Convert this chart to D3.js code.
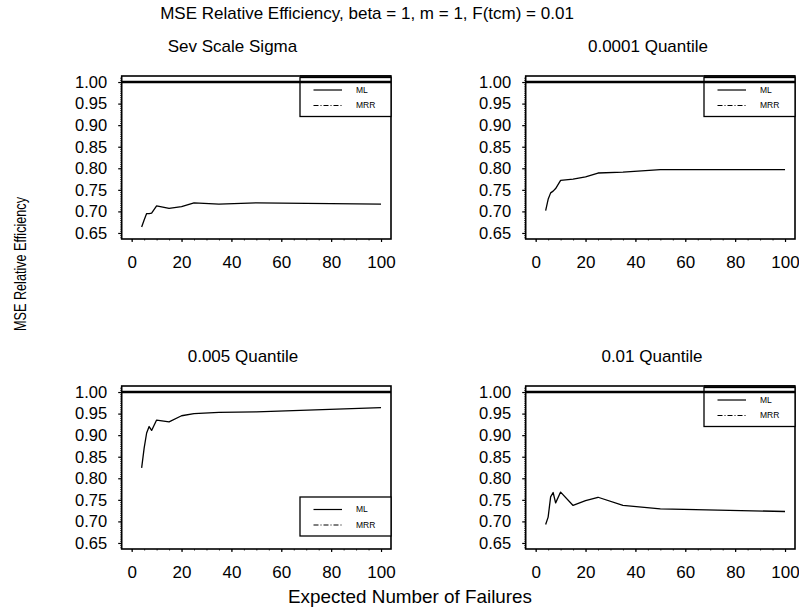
<!DOCTYPE html>
<html><head><meta charset="utf-8">
<script src="https://cdn.jsdelivr.net/npm/d3@7"></script>
<style>
body{margin:0;background:#fff;}
text{font-family:"Liberation Sans",Arial,Helvetica,sans-serif;fill:#000;}
</style></head>
<body><svg id="c" width="799" height="613"></svg>
<script>
const xValues = [4, 5, 6, 7, 8, 10, 15, 20, 25, 35, 50, 100];
const sevScaleSigma = [0.664, 0.680, 0.695, 0.695, 0.696, 0.713, 0.707, 0.711, 0.720, 0.717, 0.720, 0.717];
const q0001 = [0.702, 0.728, 0.743, 0.747, 0.753, 0.772, 0.775, 0.780, 0.789, 0.791, 0.797, 0.797];
const q005 = [0.824, 0.870, 0.905, 0.920, 0.911, 0.935, 0.931, 0.945, 0.950, 0.953, 0.954, 0.964];
const q01 = [0.693, 0.710, 0.757, 0.767, 0.743, 0.768, 0.737, 0.748, 0.756, 0.737, 0.729, 0.723];
const mrrValue = 1.0;
const panelTitles = ["Sev Scale Sigma", "0.0001 Quantile", "0.005 Quantile", "0.01 Quantile"];
const legendLabels = ["ML", "MRR"];
const xTicks = [0, 20, 40, 60, 80, 100];
const yTicks = [0.65, 0.70, 0.75, 0.80, 0.85, 0.90, 0.95, 1.00];
const mainTitle = "MSE Relative Efficiency, beta = 1, m = 1, F(tcm) = 0.01";
const xTitle = "Expected Number of Failures";
const yTitle = "MSE Relative Efficiency";

const svg = d3.select("#c");
const panels = [
  {vals: sevScaleSigma, x0: 121.7, x1: 391, y0: 76, y1: 239, tx: 232.5, ty: 51.5, leg: "top"},
  {vals: q0001, x0: 525.7, x1: 795, y0: 76, y1: 239, tx: 648, ty: 51.5, leg: "top"},
  {vals: q005, x0: 121.7, x1: 391, y0: 386, y1: 549, tx: 243, ty: 361.5, leg: "bottom"},
  {vals: q01, x0: 525.7, x1: 795, y0: 386, y1: 549, tx: 652, ty: 361.5, leg: "top"}
];

panels.forEach((p, i) => {
  const g = svg.append("g");
  const x = d3.scaleLinear().domain([-4, 104]).range([p.x0, p.x1]);
  const y = d3.scaleLinear().domain([0.636, 1.014]).range([p.y1, p.y0]);

  // minor ticks
  const yMinor = d3.range(0.64, 1.0141, 0.005);
  g.append("g").attr("transform", `translate(${p.x0},0)`)
    .call(d3.axisLeft(y).tickValues(yMinor).tickSize(1.5).tickFormat(""))
    .call(a => a.select(".domain").remove())
    .call(a => a.selectAll("line").attr("stroke-width", 0.8));
  const xMinor = d3.range(0, 101, 5);
  g.append("g").attr("transform", `translate(0,${p.y1})`)
    .call(d3.axisBottom(x).tickValues(xMinor).tickSize(1.5).tickFormat(""))
    .call(a => a.select(".domain").remove())
    .call(a => a.selectAll("line").attr("stroke-width", 0.8));

  // major axes
  g.append("g").attr("transform", `translate(${p.x0},0)`)
    .call(d3.axisLeft(y).tickValues(yTicks).tickSize(3.5).tickPadding(11).tickFormat(d3.format(".2f")))
    .call(a => a.select(".domain").remove())
    .call(a => a.selectAll("line").attr("stroke-width", 1.2))
    .call(a => a.selectAll("text").attr("font-size", "16.5px").attr("font-family", "Liberation Sans, Arial, sans-serif"));
  g.append("g").attr("transform", `translate(0,${p.y1})`)
    .call(d3.axisBottom(x).tickValues(xTicks).tickSize(3).tickPadding(14).tickFormat(d3.format("d")))
    .call(a => a.select(".domain").remove())
    .call(a => a.selectAll("line").attr("stroke-width", 1.2))
    .call(a => a.selectAll("text").attr("font-size", "17px").attr("font-family", "Liberation Sans, Arial, sans-serif"));

  // box
  g.append("rect").attr("x", p.x0).attr("y", p.y0).attr("width", p.x1 - p.x0).attr("height", p.y1 - p.y0)
    .attr("fill", "none").attr("stroke", "#000").attr("stroke-width", 1.6);

  // MRR reference line
  g.append("line").attr("x1", p.x0).attr("x2", p.x1).attr("y1", y(mrrValue)).attr("y2", y(mrrValue))
    .attr("stroke", "#000").attr("stroke-width", 2.6);

  // ML curve
  const line = d3.line().x((d, k) => x(xValues[k])).y(d => y(d));
  g.append("path").datum(p.vals).attr("d", line).attr("fill", "none")
    .attr("stroke", "#000").attr("stroke-width", 1.3).attr("stroke-linejoin", "round");

  // title
  g.append("text").attr("x", p.tx).attr("y", p.ty).attr("text-anchor", "middle")
    .attr("font-size", "17px").text(panelTitles[i]);

  // legend
  const lt = p.leg === "top" ? p.y0 + 1.5 : p.y1 - 52;
  const lx = p.x1 - 91;
  const lg = g.append("g");
  lg.append("rect").attr("x", lx).attr("y", lt).attr("width", 91).attr("height", 39)
    .attr("fill", "#fff").attr("stroke", "#000").attr("stroke-width", 1.3);
  if (p.leg === "top") {
    lg.append("line").attr("x1", lx).attr("x2", p.x1).attr("y1", y(mrrValue)).attr("y2", y(mrrValue))
      .attr("stroke", "#000").attr("stroke-width", 2.6);
    lg.append("line").attr("x1", lx).attr("x2", p.x1).attr("y1", p.y0).attr("y2", p.y0)
      .attr("stroke", "#000").attr("stroke-width", 1.6);
  }
  const rows = [lt + 12.5, lt + 28];
  lg.append("line").attr("x1", lx + 13.5).attr("x2", lx + 42).attr("y1", rows[0]).attr("y2", rows[0])
    .attr("stroke", "#000").attr("stroke-width", 1.2);
  lg.append("line").attr("x1", lx + 13.5).attr("x2", lx + 42).attr("y1", rows[1]).attr("y2", rows[1])
    .attr("stroke", "#000").attr("stroke-width", 1.2).attr("stroke-dasharray", "5,2,1,2");
  legendLabels.forEach((lab, k) => {
    lg.append("text").attr("x", lx + 56).attr("y", rows[k]).attr("dy", "0.35em")
      .attr("font-size", "8.5px").text(lab);
  });
});

svg.append("text").attr("x", 367).attr("y", 19.3).attr("text-anchor", "middle")
  .attr("font-size", "17px").text(mainTitle);
svg.append("text").attr("x", 410).attr("y", 603).attr("text-anchor", "middle")
  .attr("font-size", "18.5px").attr("textLength", 244).attr("lengthAdjust", "spacingAndGlyphs").text(xTitle);
svg.append("text").attr("transform", "translate(26,264) rotate(-90)").attr("text-anchor", "middle")
  .attr("font-size", "16.5px").attr("textLength", 134).attr("lengthAdjust", "spacingAndGlyphs").text(yTitle);
</script></body></html>
